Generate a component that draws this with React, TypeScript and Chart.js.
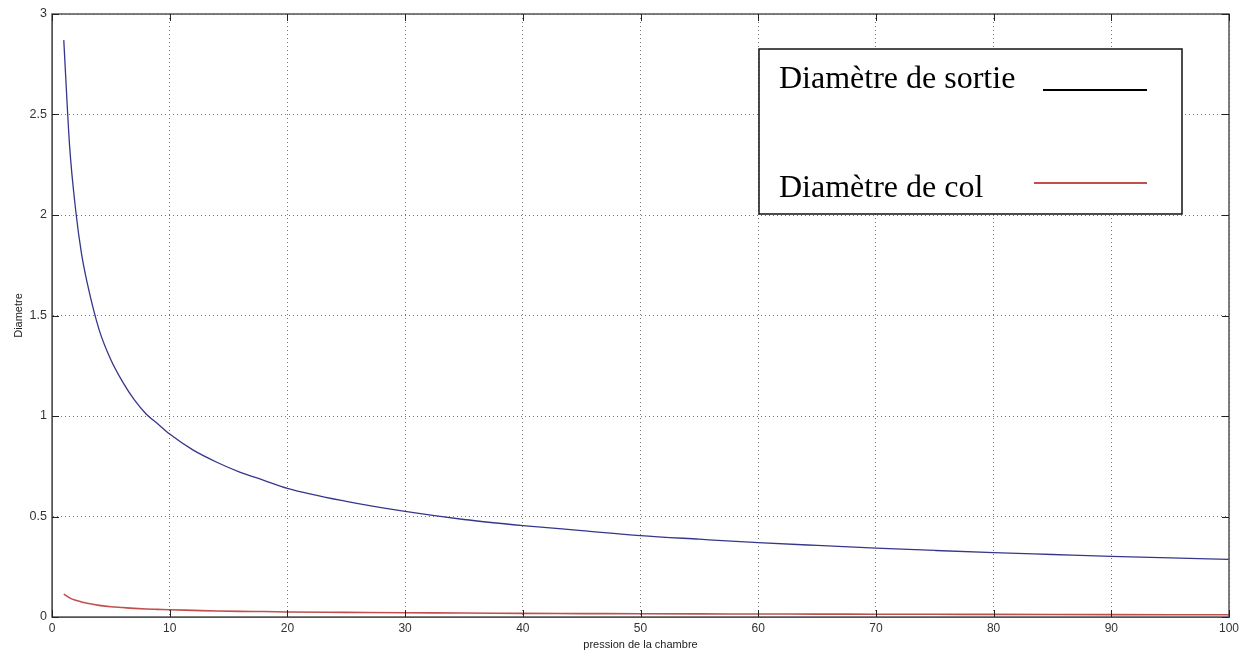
import React, { useEffect, useRef } from "react";
import { Chart, registerables } from "chart.js";

Chart.register(...registerables);

const pressure = [1, 1.5, 2, 2.5, 3, 4, 5, 6, 7, 8, 9, 10, 12, 14, 16, 18, 20, 25, 30, 35, 40, 45, 50, 55, 60, 65, 70, 75, 80, 85, 90, 95, 100];
const diamSortie = [2.87, 2.34, 2.03, 1.81, 1.66, 1.43, 1.28, 1.17, 1.08, 1.01, 0.96, 0.91, 0.83, 0.77, 0.72, 0.68, 0.64, 0.575, 0.525, 0.485, 0.455, 0.43, 0.405, 0.387, 0.37, 0.356, 0.343, 0.331, 0.32, 0.311, 0.302, 0.294, 0.287];
const diamCol = [0.114, 0.095, 0.083, 0.075, 0.068, 0.058, 0.051, 0.047, 0.043, 0.040, 0.038, 0.036, 0.033, 0.030, 0.028, 0.027, 0.025, 0.023, 0.021, 0.020, 0.018, 0.017, 0.016, 0.0155, 0.015, 0.0145, 0.014, 0.0135, 0.013, 0.0125, 0.012, 0.0115, 0.011];
const legendLabels = ["Diamètre de sortie", "Diamètre de col"];
const xTitle = "pression de la chambre";
const yTitle = "Diametre";

const boxAndTicks = {
  id: "boxAndTicks",
  afterDraw(chart: any) {
    const { ctx, chartArea: a, scales } = chart;
    const xs = scales.x;
    const ys = scales.y;
    ctx.save();
    ctx.strokeStyle = "#555";
    ctx.lineWidth = 1.5;
    ctx.strokeRect(a.left, a.top, a.right - a.left, a.bottom - a.top);
    ctx.strokeStyle = "#222";
    ctx.lineWidth = 1;
    const L = 7;
    xs.ticks.forEach((t: any) => {
      const p = Math.round(xs.getPixelForValue(t.value)) + 0.5;
      ctx.beginPath();
      ctx.moveTo(p, a.bottom);
      ctx.lineTo(p, a.bottom - L);
      ctx.moveTo(p, a.top);
      ctx.lineTo(p, a.top + L);
      ctx.stroke();
    });
    ys.ticks.forEach((t: any) => {
      const p = Math.round(ys.getPixelForValue(t.value)) + 0.5;
      ctx.beginPath();
      ctx.moveTo(a.left, p);
      ctx.lineTo(a.left + L, p);
      ctx.moveTo(a.right, p);
      ctx.lineTo(a.right - L, p);
      ctx.stroke();
    });
    // legend box
    const bx = 759, by = 49, bw = 423, bh = 165;
    ctx.fillStyle = "#fff";
    ctx.fillRect(bx, by, bw, bh);
    ctx.strokeStyle = "#111";
    ctx.lineWidth = 1.5;
    ctx.strokeRect(bx, by, bw, bh);
    ctx.fillStyle = "#000";
    ctx.font = "32px 'Liberation Serif', 'Times New Roman', serif";
    ctx.textBaseline = "alphabetic";
    ctx.textAlign = "left";
    ctx.fillText(legendLabels[0], 779, 88);
    ctx.fillText(legendLabels[1], 779, 197);
    ctx.lineWidth = 2;
    ctx.strokeStyle = "#000";
    ctx.beginPath();
    ctx.moveTo(1043, 90);
    ctx.lineTo(1147, 90);
    ctx.stroke();
    ctx.strokeStyle = "#c0504d";
    ctx.beginPath();
    ctx.moveTo(1034, 183);
    ctx.lineTo(1147, 183);
    ctx.stroke();
    ctx.restore();
  },
};

export default function App() {
  const ref = useRef<HTMLCanvasElement>(null);
  useEffect(() => {
    document.body.style.margin = "0";
    const canvas = ref.current!;
    const chart = new Chart(canvas, {
      type: "line",
      data: {
        datasets: [
          {
            label: legendLabels[0],
            data: pressure.map((p, i) => ({ x: p, y: diamSortie[i] })),
            borderColor: "#36368c",
            borderWidth: 1.3,
            pointRadius: 0,
            cubicInterpolationMode: "monotone",
            fill: false,
          },
          {
            label: legendLabels[1],
            data: pressure.map((p, i) => ({ x: p, y: diamCol[i] })),
            borderColor: "#c0504d",
            borderWidth: 1.6,
            pointRadius: 0,
            cubicInterpolationMode: "monotone",
            fill: false,
          },
        ],
      },
      options: {
        responsive: false,
        animation: false,
        layout: { padding: { left: 0, right: 18, top: 14, bottom: 0 } },
        plugins: { legend: { display: false }, tooltip: { enabled: false } },
        scales: {
          x: {
            type: "linear",
            min: 0,
            max: 100,
            ticks: {
              stepSize: 10,
              color: "#333",
              padding: 4,
              maxRotation: 0,
              font: { family: "'Liberation Sans', Arial, sans-serif", size: 12 },
            },
            grid: { color: "#777", drawTicks: false, lineWidth: 1 },
            border: { display: true, color: "#555", dash: [1, 3] } as any,
            title: {
              display: true,
              text: xTitle,
              color: "#222",
              font: { family: "'Liberation Sans', Arial, sans-serif", size: 11 },
              padding: { top: 0, bottom: 3 },
            },
            afterFit(scale: any) {
              scale.height = 38;
            },
          },
          y: {
            type: "linear",
            min: 0,
            max: 3,
            ticks: {
              stepSize: 0.5,
              color: "#333",
              padding: 5,
              font: { family: "'Liberation Sans', Arial, sans-serif", size: 12.5 },
              callback: (v: any) => String(Math.round(Number(v) * 10) / 10),
            },
            grid: { color: "#777", drawTicks: false, lineWidth: 1 },
            border: { display: true, color: "#555", dash: [1, 3] } as any,
            title: {
              display: true,
              text: yTitle,
              color: "#222",
              font: { family: "'Liberation Sans', Arial, sans-serif", size: 11 },
              padding: { top: 12, bottom: 0 },
            },
            afterFit(scale: any) {
              scale.width = 52;
            },
          },
        },
      },
      plugins: [boxAndTicks],
    } as any);
    return () => chart.destroy();
  }, []);
  return <canvas ref={ref} width={1247} height={655} style={{ display: "block" }} />;
}
